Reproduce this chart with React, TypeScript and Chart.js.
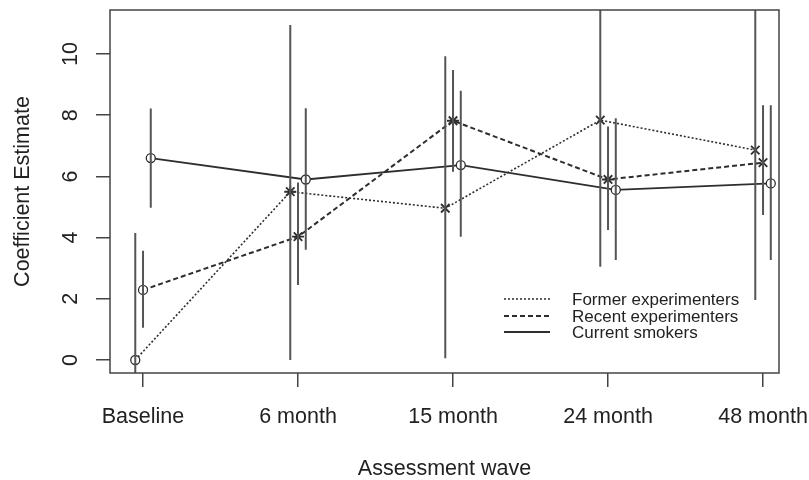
import React, { useEffect, useRef } from "react";
import { Chart, registerables } from "chart.js";

Chart.register(...registerables);

// ---- data ----
const WAVES = ["Baseline", "6 month", "15 month", "24 month", "48 month"];
const Y_TICKS = [0, 2, 4, 6, 8, 10];
const SERIES_NAMES = ["Former experimenters", "Recent experimenters", "Current smokers"];

const FORMER_EST = [0.0, 5.5, 4.96, 7.84, 6.86];
const FORMER_LO = [-0.5, 0.0, 0.06, 3.05, 1.96];
const FORMER_HI = [4.15, 10.95, 9.93, 12.5, 12.5];

const RECENT_EST = [2.29, 4.03, 7.82, 5.9, 6.45];
const RECENT_LO = [1.05, 2.45, 6.15, 4.25, 4.74];
const RECENT_HI = [3.57, 5.8, 9.48, 7.63, 8.33];

const CURRENT_EST = [6.6, 5.9, 6.37, 5.56, 5.77];
const CURRENT_LO = [4.98, 3.6, 4.03, 3.27, 3.27];
const CURRENT_HI = [8.22, 8.23, 8.8, 7.9, 8.33];

// ---- styles ----
const DODGE = 0.05;
const FONT = '"Liberation Sans", Arial, Helvetica, sans-serif';
const INK = "#2e2e2e";
const BAR = "#555555";

const FORMER_MARKERS = ["circle", "star", "crossRot", "crossRot", "crossRot"];
const RECENT_MARKERS = ["circle", "star", "star", "star", "crossRot"];
const CURRENT_MARKERS = ["circle", "circle", "circle", "circle", "circle"];

function points(est: number[], off: number) {
  return est.map((v, i) => ({ x: i + off, y: v }));
}
function bars(lo: number[], hi: number[], off: number) {
  const out: any[] = [];
  lo.forEach((l, i) => {
    out.push({ x: i + off, y: l });
    out.push({ x: i + off, y: hi[i] });
    out.push({ x: i + off, y: null });
  });
  return out;
}

const framePlugin = {
  id: "frame",
  afterDatasetsDraw(chart: any) {
    const { ctx, chartArea: a } = chart;
    ctx.save();
    ctx.strokeStyle = "#444";
    ctx.lineWidth = 1.5;
    ctx.strokeRect(a.left, a.top, a.right - a.left, a.bottom - a.top);
    ctx.restore();
  },
};

const legendPlugin = {
  id: "rlegend",
  afterDraw(chart: any) {
    const { ctx } = chart;
    const series = chart.data.datasets.filter((d: any) => d.isSeries);
    const x0 = 504, x1 = 550, tx = 572;
    const ys = [299, 316, 332];
    ctx.save();
    series.forEach((d: any, i: number) => {
      ctx.beginPath();
      ctx.setLineDash(d.borderDash || []);
      ctx.strokeStyle = d.borderColor;
      ctx.lineWidth = d.borderWidth;
      ctx.moveTo(x0, ys[i]);
      ctx.lineTo(x1, ys[i]);
      ctx.stroke();
      ctx.setLineDash([]);
      ctx.fillStyle = "#222";
      ctx.font = `17px ${FONT}`;
      ctx.textBaseline = "middle";
      ctx.textAlign = "left";
      ctx.fillText(d.label, tx, ys[i] + 1);
    });
    ctx.restore();
  },
};

export default function App() {
  const ref = useRef<HTMLCanvasElement | null>(null);

  useEffect(() => {
    if (!ref.current) return;
    const barDs = (lo: number[], hi: number[], off: number) => ({
      label: "_ci",
      data: bars(lo, hi, off),
      showLine: true,
      spanGaps: false,
      borderColor: BAR,
      borderWidth: 2,
      pointRadius: 0,
      pointHoverRadius: 0,
      clip: 0,
      isSeries: false,
    });
    const serDs = (name: string, est: number[], off: number, dash: number[], w: number, markers: string[]) => ({
      label: name,
      data: points(est, off),
      showLine: true,
      borderColor: INK,
      borderWidth: w,
      borderDash: dash,
      pointStyle: markers,
      pointRadius: markers.map((m) => (m === "circle" ? 4.5 : 6)),
      pointBorderWidth: markers.map((m) => (m === "circle" ? 1.3 : 1.8)),
      pointBorderColor: INK,
      pointBackgroundColor: "rgba(255,255,255,1)",
      clip: 0,
      isSeries: true,
    });

    const chart = new Chart(ref.current, {
      type: "scatter",
      data: {
        datasets: [
          barDs(FORMER_LO, FORMER_HI, -DODGE),
          barDs(RECENT_LO, RECENT_HI, 0),
          barDs(CURRENT_LO, CURRENT_HI, DODGE),
          serDs(SERIES_NAMES[0], FORMER_EST, -DODGE, [2, 2], 1.6, FORMER_MARKERS),
          serDs(SERIES_NAMES[1], RECENT_EST, 0, [5, 3], 2, RECENT_MARKERS),
          serDs(SERIES_NAMES[2], CURRENT_EST, DODGE, [], 1.8, CURRENT_MARKERS),
        ] as any,
      },
      options: {
        responsive: false,
        animation: false,
        devicePixelRatio: 1,
        layout: { padding: { top: 10, right: 30, left: 0, bottom: 0 } },
        plugins: {
          legend: { display: false },
          tooltip: { enabled: false },
        },
        scales: {
          x: {
            type: "linear",
            min: -0.213,
            max: 4.103,
            afterBuildTicks: (s: any) => {
              s.ticks = WAVES.map((_, i) => ({ value: i }));
            },
            afterFit: (s: any) => {
              s.height = 107;
              s.paddingLeft = 0;
              s.paddingRight = 0;
            },
            grid: {
              display: true,
              drawOnChartArea: false,
              drawTicks: true,
              tickLength: 14,
              tickColor: "#444",
              lineWidth: 1.5,
            },
            border: { display: false },
            ticks: {
              autoSkip: false,
              maxRotation: 0,
              minRotation: 0,
              padding: 17.5,
              color: "#222",
              font: { family: FONT, size: 21.5 },
              callback: (v: any) => WAVES[Math.round(Number(v))] ?? "",
            },
            title: {
              display: true,
              text: "Assessment wave",
              color: "#222",
              font: { family: FONT, size: 21.5, lineHeight: 1 },
              padding: { top: 0, bottom: 0 },
            },
          },
          y: {
            type: "linear",
            min: -0.425,
            max: 11.44,
            afterBuildTicks: (s: any) => {
              s.ticks = Y_TICKS.map((v) => ({ value: v }));
            },
            afterFit: (s: any) => {
              s.width = 110;
              s.paddingTop = 0;
              s.paddingBottom = 0;
            },
            grid: {
              display: true,
              drawOnChartArea: false,
              drawTicks: true,
              tickLength: 14,
              tickColor: "#444",
              lineWidth: 1.5,
            },
            border: { display: false },
            ticks: {
              minRotation: 90,
              maxRotation: 90,
              crossAlign: "center",
              padding: 12.5,
              color: "#222",
              font: { family: FONT, size: 21.5 },
              callback: (v: any) => String(v),
            },
            title: {
              display: true,
              text: "Coefficient Estimate",
              color: "#222",
              font: { family: FONT, size: 21.5, lineHeight: 1 },
              padding: { top: 12, bottom: 0 },
            },
          },
        },
      } as any,
      plugins: [framePlugin, legendPlugin],
    });
    return () => chart.destroy();
  }, []);

  return (
    <div style={{ position: "absolute", left: 0, top: 0, width: 809, height: 480, background: "#fff" }}>
      <canvas ref={ref} width={809} height={480} style={{ display: "block", width: 809, height: 480 }} />
    </div>
  );
}
